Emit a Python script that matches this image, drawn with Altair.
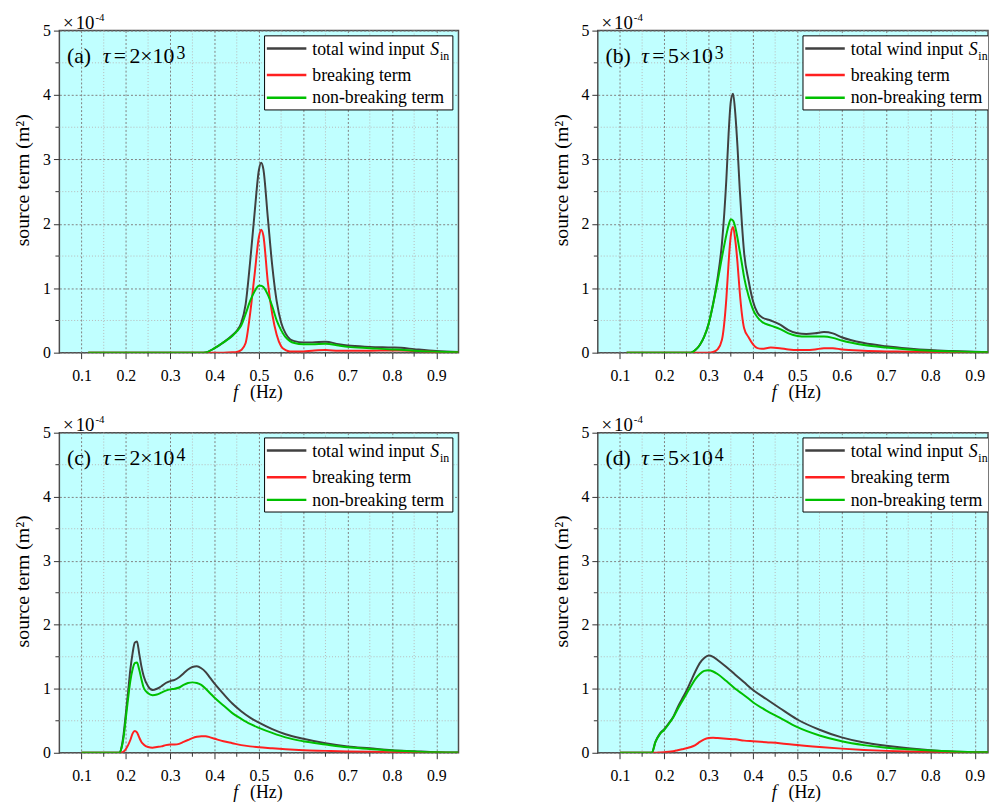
import altair as alt
import pandas as pd

FONT = "Liberation Serif"
COL_TOTAL = "#404040"
COL_BREAK = "#ff2020"
COL_NB = "#00c000"
BG = "#c0ffff"

# ---------------- data (source term, units of 1e-4 m^2) ----------------
A_F = [0.115, 0.2, 0.3, 0.37, 0.38, 0.40, 0.42, 0.44, 0.45, 0.46, 0.47, 0.48, 0.49, 0.50, 0.505,
       0.51, 0.52, 0.53, 0.54, 0.55, 0.56, 0.57, 0.58, 0.60, 0.62, 0.65, 0.68, 0.70, 0.75, 0.80,
       0.82, 0.85, 0.90, 0.95]
A_TOTAL = [0, 0, 0, 0, 0.005, 0.07, 0.16, 0.27, 0.34, 0.46, 0.75, 1.4, 2.15, 2.84, 2.95,
           2.85, 2.1, 1.35, 0.8, 0.47, 0.3, 0.21, 0.18, 0.16, 0.16, 0.17, 0.13, 0.11, 0.09, 0.08,
           0.075, 0.055, 0.025, 0.01]
A_BREAK = [0, 0, 0, 0, 0, 0, 0, 0.005, 0.01, 0.04, 0.15, 0.6, 1.2, 1.8, 1.91,
           1.82, 1.1, 0.6, 0.28, 0.1, 0.04, 0.02, 0.02, 0.02, 0.03, 0.04, 0.03, 0.03, 0.03, 0.035,
           0.035, 0.025, 0.01, 0.005]
A_NONBREAK = [0, 0, 0, 0, 0.005, 0.07, 0.16, 0.26, 0.33, 0.42, 0.6, 0.8, 0.95, 1.04, 1.04,
              1.02, 0.9, 0.72, 0.5, 0.35, 0.24, 0.18, 0.15, 0.13, 0.13, 0.14, 0.11, 0.09, 0.07, 0.05,
              0.045, 0.03, 0.015, 0.005]

B_F = [0.115, 0.2, 0.26, 0.27, 0.28, 0.29, 0.30, 0.31, 0.32, 0.33, 0.34, 0.345, 0.35, 0.355, 0.36,
       0.365, 0.37, 0.375, 0.38, 0.39, 0.40, 0.41, 0.42, 0.44, 0.46, 0.48, 0.50, 0.52, 0.54, 0.56,
       0.58, 0.60, 0.65, 0.70, 0.75, 0.80, 0.85, 0.90, 0.95]
B_TOTAL = [0, 0, 0, 0.04, 0.12, 0.25, 0.45, 0.76, 1.15, 1.7, 2.7, 3.4, 3.9, 4.02, 3.72,
           3.2, 2.55, 2.0, 1.55, 1.12, 0.8, 0.62, 0.55, 0.5, 0.44, 0.35, 0.3, 0.29, 0.3, 0.32,
           0.3, 0.24, 0.15, 0.1, 0.065, 0.04, 0.025, 0.013, 0.005]
B_BREAK = [0, 0, 0, 0, 0, 0, 0, 0.01, 0.05, 0.2, 0.85, 1.4, 1.82, 1.95, 1.75,
           1.4, 0.95, 0.6, 0.38, 0.24, 0.13, 0.07, 0.06, 0.08, 0.07, 0.05, 0.04, 0.04, 0.05, 0.07,
           0.07, 0.05, 0.03, 0.02, 0.015, 0.01, 0.005, 0.003, 0]
B_NONBREAK = [0, 0, 0, 0.04, 0.12, 0.25, 0.45, 0.75, 1.1, 1.48, 1.83, 1.98, 2.07, 2.05, 1.95,
              1.78, 1.58, 1.38, 1.17, 0.88, 0.67, 0.55, 0.48, 0.42, 0.37, 0.3, 0.26, 0.25, 0.25, 0.25,
              0.23, 0.19, 0.12, 0.08, 0.05, 0.03, 0.02, 0.01, 0.005]

C_F = [0.1, 0.15, 0.185, 0.19, 0.195, 0.20, 0.205, 0.21, 0.215, 0.22, 0.225, 0.23, 0.235, 0.24,
       0.25, 0.26, 0.27, 0.28, 0.29, 0.30, 0.31, 0.32, 0.33, 0.34, 0.35, 0.36, 0.37, 0.38, 0.39,
       0.40, 0.42, 0.44, 0.46, 0.48, 0.50, 0.53, 0.56, 0.60, 0.65, 0.70, 0.75, 0.80, 0.85, 0.90, 0.95]
C_TOTAL = [0, 0, 0, 0.08, 0.3, 0.62, 0.95, 1.3, 1.55, 1.72, 1.74, 1.55, 1.35, 1.2,
           1.04, 0.98, 1.0, 1.04, 1.09, 1.12, 1.14, 1.18, 1.24, 1.3, 1.34, 1.35, 1.32, 1.26, 1.17,
           1.08, 0.92, 0.77, 0.65, 0.55, 0.47, 0.37, 0.29, 0.22, 0.15, 0.1, 0.07, 0.04, 0.025, 0.01, 0.005]
C_BREAK = [0, 0, 0, 0.005, 0.02, 0.06, 0.12, 0.2, 0.3, 0.34, 0.32, 0.24, 0.17, 0.13,
           0.09, 0.08, 0.09, 0.1, 0.12, 0.13, 0.13, 0.14, 0.17, 0.2, 0.23, 0.25, 0.26, 0.26, 0.24,
           0.22, 0.18, 0.15, 0.12, 0.1, 0.085, 0.07, 0.055, 0.04, 0.03, 0.02, 0.015, 0.01, 0.005, 0.003, 0]
C_NONBREAK = [0, 0, 0, 0.07, 0.25, 0.55, 0.85, 1.12, 1.3, 1.4, 1.41, 1.3, 1.15, 1.02,
              0.93, 0.9, 0.91, 0.94, 0.97, 0.99, 1.0, 1.02, 1.06, 1.09, 1.1, 1.09, 1.06, 1.0, 0.93,
              0.86, 0.74, 0.62, 0.53, 0.45, 0.39, 0.31, 0.24, 0.18, 0.13, 0.085, 0.06, 0.035, 0.02, 0.008, 0.004]

D_F = [0.1, 0.15, 0.172, 0.18, 0.19, 0.20, 0.21, 0.22, 0.23, 0.24, 0.25, 0.26, 0.27, 0.28, 0.29,
       0.30, 0.31, 0.32, 0.34, 0.36, 0.38, 0.40, 0.43, 0.46, 0.50, 0.55, 0.60, 0.65, 0.70, 0.75,
       0.80, 0.85, 0.90, 0.95]
D_TOTAL = [0, 0, 0, 0.17, 0.3, 0.37, 0.46, 0.56, 0.71, 0.84, 0.97, 1.12, 1.27, 1.4, 1.48,
           1.52, 1.5, 1.45, 1.34, 1.22, 1.1, 0.98, 0.84, 0.7, 0.52, 0.36, 0.24, 0.16, 0.11, 0.07,
           0.04, 0.02, 0.01, 0.005]
D_BREAK = [0, 0, 0, 0, 0.005, 0.01, 0.015, 0.025, 0.04, 0.055, 0.07, 0.09, 0.12, 0.17, 0.21,
           0.23, 0.235, 0.23, 0.22, 0.21, 0.19, 0.18, 0.165, 0.15, 0.12, 0.09, 0.065, 0.045, 0.03, 0.02,
           0.015, 0.01, 0.005, 0.002]
D_NONBREAK = [0, 0, 0, 0.17, 0.29, 0.36, 0.45, 0.55, 0.68, 0.8, 0.92, 1.04, 1.15, 1.23, 1.28,
              1.29, 1.27, 1.23, 1.12, 1.0, 0.9, 0.79, 0.66, 0.55, 0.4, 0.27, 0.18, 0.12, 0.08, 0.055,
              0.035, 0.02, 0.01, 0.005]

X_MAJOR = [0.1, 0.2, 0.3, 0.4, 0.5, 0.6, 0.7, 0.8, 0.9]
X_MINOR = [0.15, 0.25, 0.35, 0.45, 0.55, 0.65, 0.75, 0.85]
Y_MAJOR = [0, 1, 2, 3, 4, 5]
Y_MINOR = [0.5, 1.5, 2.5, 3.5, 4.5]

LEGEND_LABELS = ["total wind input", "breaking term", "non-breaking term"]
PANEL_LETTERS = ["(a)", "(b)", "(c)", "(d)"]
TAU_MANT = ["2×10", "5×10", "2×10", "5×10"]
TAU_EXP = ["3", "3", "4", "4"]
Y_TITLE = "source term (m²)"

ONE = pd.DataFrame({"k": [0]})


def txt(s, x, y, size, style="normal", clip=False):
    return alt.Chart(ONE).mark_text(
        text=s, font=FONT, fontSize=size, fontStyle=style, color="black",
        align="left", baseline="alphabetic", clip=clip
    ).encode(x=alt.value(x), y=alt.value(y))


def panel(i, f, tot, brk, nb, w, h, xmax):
    xs = alt.Scale(domain=[0.05, xmax], nice=False, zero=False)
    ys = alt.Scale(domain=[0, 5], nice=False, zero=False)
    xaxis = alt.Axis(values=X_MAJOR, format=".1f", grid=True, gridColor="#808080",
                     gridDash=[2, 2], gridWidth=1, ticks=True, tickSize=6, tickColor="#333333",
                     tickWidth=1, domain=False, labelFont=FONT, labelFontSize=16,
                     labelColor="black", labelPadding=9, labelFlush=False, title=None)
    yaxis = alt.Axis(values=Y_MAJOR, format="d", grid=True, gridColor="#808080",
                     gridDash=[2, 2], gridWidth=1, ticks=True, tickSize=6, tickColor="#333333",
                     tickWidth=1, domain=False, labelFont=FONT, labelFontSize=16,
                     labelColor="black", labelPadding=3, title=Y_TITLE, titleFont=FONT,
                     titleFontSize=20, titleFontWeight="normal", titleColor="black",
                     titlePadding=10, titleY=h / 2 - 12)

    def X():
        return alt.X("f:Q", scale=xs, axis=xaxis)

    def Y():
        return alt.Y("v:Q", scale=ys, axis=yaxis)

    clip = xmax < 0.95
    layers = []
    # minor grid
    layers.append(alt.Chart(pd.DataFrame({"f": X_MINOR})).mark_rule(
        color="#b8b8b8", strokeDash=[1, 2], strokeWidth=1).encode(
        x=X(), y=alt.value(0), y2=alt.value(h)))
    layers.append(alt.Chart(pd.DataFrame({"v": Y_MINOR})).mark_rule(
        color="#b8b8b8", strokeDash=[1, 2], strokeWidth=1).encode(
        y=Y(), x=alt.value(0), x2=alt.value(w)))
    # minor ticks
    layers.append(alt.Chart(pd.DataFrame({"f": X_MINOR})).mark_rule(
        color="#333333", strokeWidth=1).encode(
        x=X(), y=alt.value(h), y2=alt.value(h + 4)))
    layers.append(alt.Chart(pd.DataFrame({"v": Y_MINOR})).mark_rule(
        color="#333333", strokeWidth=1).encode(
        y=Y(), x=alt.value(-4), x2=alt.value(0)))
    # curves
    for vals, col in [(tot, COL_TOTAL), (brk, COL_BREAK), (nb, COL_NB)]:
        layers.append(alt.Chart(pd.DataFrame({"f": f, "v": vals})).mark_line(
            color=col, strokeWidth=2, interpolate="monotone", clip=True).encode(x=X(), y=Y()))
    # legend box
    layers.append(alt.Chart(ONE).mark_rect(
        fill="white", stroke="black", strokeWidth=1, clip=True).encode(
        x=alt.value(207.7), x2=alt.value(398.3), y=alt.value(5.3), y2=alt.value(80.3)))
    for yy, col in [(18, COL_TOTAL), (45, COL_BREAK), (68, COL_NB)]:
        layers.append(alt.Chart(ONE).mark_rule(color=col, strokeWidth=2.5, clip=True).encode(
            x=alt.value(210), x2=alt.value(250), y=alt.value(yy)))
    layers.append(txt(LEGEND_LABELS[0], 256, 24.7, 18, clip=clip))
    layers.append(txt("S", 375.5, 24.7, 18, "italic", clip=clip))
    layers.append(txt("in", 385.2, 29.5, 12, clip=clip))
    layers.append(txt(LEGEND_LABELS[1], 256, 51.3, 18, clip=clip))
    layers.append(txt(LEGEND_LABELS[2], 256, 73.7, 18, clip=clip))
    # panel label
    layers.append(txt(PANEL_LETTERS[i], 7.7, 32.3, 22))
    layers.append(txt("τ", 44, 32.3, 22, "italic"))
    layers.append(txt("=", 55, 32.3, 22))
    layers.append(txt(TAU_MANT[i], 71, 32.3, 22))
    layers.append(txt(TAU_EXP[i], 118.5, 28.5, 18))
    # multiplier
    layers.append(txt("×", 3.7, -2, 19))
    layers.append(txt("10", 16.5, -2, 19))
    layers.append(txt("-4", 36.5, -10, 11))
    # x title
    layers.append(txt("f", 176, h + 46, 18, "italic"))
    layers.append(txt("(Hz)", 193, h + 46, 18))
    return alt.layer(*layers).properties(width=w, height=h)


pa = panel(0, A_F, A_TOTAL, A_BREAK, A_NONBREAK, 404, 326, 0.95)
pb = panel(1, B_F, B_TOTAL, B_BREAK, B_NONBREAK, 395, 326, 0.93)
pc = panel(2, C_F, C_TOTAL, C_BREAK, C_NONBREAK, 404, 324, 0.95)
pd_ = panel(3, D_F, D_TOTAL, D_BREAK, D_NONBREAK, 395, 324, 0.93)

top = alt.hconcat(pa, pb, spacing=91)
bottom = alt.hconcat(pc, pd_, spacing=91)
chart = alt.vconcat(top, bottom, spacing=10).properties(
    padding={"left": 4, "top": -2, "right": 0, "bottom": 0}
).configure_view(fill=BG, stroke="#4d4d4d", strokeWidth=1.5)

chart.save("out.html", embed_options={"renderer": "svg", "actions": False})
